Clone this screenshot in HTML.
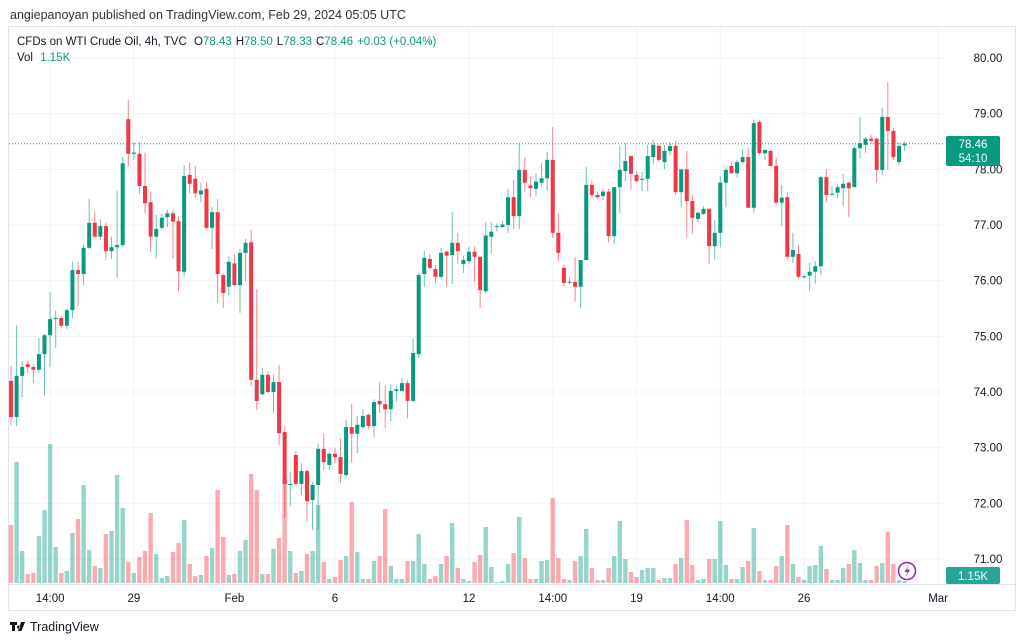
<!DOCTYPE html>
<html><head><meta charset="utf-8"><style>
html,body{margin:0;padding:0;background:#fff;}
svg{display:block;font-family:"Liberation Sans",sans-serif;}
</style></head><body>
<svg id="chart" width="1024" height="643" viewBox="0 0 1024 643" xmlns="http://www.w3.org/2000/svg">
<rect width="1024" height="643" fill="#fff"/>
<text x="10" y="19" font-size="12.5" fill="#333">angiepanoyan published on TradingView.com, Feb 29, 2024 05:05 UTC</text>
<rect x="8.5" y="26.5" width="1007" height="584" fill="none" stroke="#e0e3eb"/>
<g id="grid"></g>
<g id="vol"></g>
<g id="candles"></g>
<g id="axes"></g>
<g font-size="11.5">
<text x="17" y="45" fill="#131722">CFDs on WTI Crude Oil, 4h, TVC <tspan fill="#131722" dx="4">O</tspan><tspan fill="#089981">78.43</tspan><tspan dx="4">H</tspan><tspan fill="#089981">78.50</tspan><tspan dx="4">L</tspan><tspan fill="#089981">78.33</tspan><tspan dx="4">C</tspan><tspan fill="#089981">78.46</tspan><tspan dx="4" fill="#089981">+0.03 (+0.04%)</tspan></text>
<text x="17" y="61" fill="#131722">Vol <tspan fill="#089981" dx="4">1.15K</tspan></text>
</g>
<g>
<rect x="946" y="136" width="54" height="30" rx="2" fill="#089981"/>
<text x="973" y="148" font-size="11.5" fill="#fff" text-anchor="middle">78.46</text>
<text x="973" y="162" font-size="11.5" fill="#fff" text-anchor="middle">54:10</text>
</g>
<g>
<rect x="946" y="567" width="54" height="17" rx="2" fill="#26a69a"/>
<text x="973" y="580" font-size="11.5" fill="#fff" text-anchor="middle">1.15K</text>
</g>
<g>
<circle cx="907" cy="571" r="8.5" fill="#fff" stroke="#9c27b0" stroke-width="1.6"/>
<path d="M908.5 565.5 L904.5 572 L907.5 572 L905.5 577 L910 569.8 L907 569.8 Z" fill="#9c27b0"/>
</g>
<g>
<path d="M10 622 h7 v3 h-2 v6 h-3 v-6 h-2z M18.5 625.5 a1.6 1.6 0 1 0 0.01 0z M21 622 h4 l-3.5 9 h-3.5z" fill="#131722"/>
<text x="30" y="631" font-size="12.5" fill="#131722">TradingView</text>
</g>
</svg>
<script>
const opens=[74.20,73.55,74.29,74.50,74.45,74.40,74.68,75.02,75.31,75.33,75.19,75.47,76.19,76.12,76.59,77.04,76.79,76.98,76.53,76.60,76.64,78.90,78.28,78.28,77.70,77.41,76.79,76.95,77.14,77.21,77.07,76.16,77.90,77.83,77.55,77.65,76.95,77.23,76.10,75.89,76.31,75.92,76.50,76.69,74.22,73.96,74.31,74.00,74.18,73.28,72.33,72.87,72.35,72.58,72.06,72.33,72.98,72.69,72.89,72.83,72.51,73.37,73.25,73.37,73.59,73.39,73.84,73.78,73.69,74.02,74.02,74.16,73.84,74.68,76.12,76.39,76.21,76.07,76.52,76.46,76.68,76.30,76.35,76.52,76.43,75.81,76.79,76.97,76.96,77.00,77.50,77.16,77.99,77.71,77.65,77.76,77.84,78.17,76.86,76.23,75.97,75.98,75.89,76.37,77.72,77.54,77.52,77.60,76.80,77.68,77.97,78.24,77.90,77.82,77.83,78.22,78.42,78.13,78.33,78.42,77.59,78.00,77.43,77.11,77.20,77.29,76.62,76.86,77.76,78.06,77.93,78.13,78.22,77.31,78.85,78.29,78.33,78.06,77.40,77.50,76.43,76.48,76.07,76.09,76.16,76.26,77.86,77.55,77.58,77.66,77.76,77.68,78.38,78.44,78.55,78.55,77.99,78.94,78.69,78.13,78.43];
const highs=[74.47,75.20,74.56,74.56,74.50,74.97,75.04,75.80,75.46,75.36,75.50,76.34,76.34,76.65,77.47,77.25,77.10,77.04,76.79,77.61,78.22,79.25,78.49,78.49,78.30,77.60,77.18,77.20,77.28,77.28,77.15,78.08,78.12,78.06,77.76,77.77,77.32,77.47,76.12,76.44,76.48,76.57,76.75,76.91,75.85,74.43,74.37,74.31,74.49,73.39,72.56,72.94,72.72,72.60,72.39,73.07,73.25,72.92,73.00,73.17,73.50,73.78,73.57,73.69,73.62,73.87,74.18,74.11,74.14,74.12,74.25,74.22,74.95,76.14,76.53,76.48,76.28,76.59,76.54,77.23,76.86,76.45,76.61,76.62,76.43,77.05,77.05,77.03,77.08,77.65,77.81,78.46,78.22,77.87,77.93,78.11,78.31,78.76,77.21,76.28,76.05,76.43,76.37,78.04,77.80,77.60,77.65,77.65,77.68,78.42,78.47,78.24,77.97,77.95,78.44,78.53,78.45,78.44,78.49,78.51,78.00,78.33,77.55,77.24,77.34,77.30,77.09,77.88,78.04,78.12,78.17,78.36,78.38,78.89,78.88,78.35,78.35,78.22,77.72,77.60,76.86,76.64,76.11,76.32,76.35,77.88,78.00,77.70,77.73,77.92,77.78,78.42,78.94,78.58,78.62,78.57,79.10,79.57,78.75,78.48,78.50];
const lows=[73.40,73.39,73.91,74.34,74.16,74.34,73.93,74.45,74.79,75.15,75.13,75.33,75.55,75.92,76.57,76.77,76.73,76.37,76.39,76.05,76.60,78.05,78.17,77.56,77.21,76.51,76.40,76.91,76.96,76.39,75.81,76.07,77.57,77.50,77.41,76.91,76.57,75.60,75.51,75.72,75.90,75.42,75.99,74.11,73.68,73.94,73.98,73.62,73.05,71.75,71.95,72.33,72.15,71.67,71.52,71.52,72.60,72.60,72.72,72.36,72.48,72.73,72.90,73.33,73.33,73.19,73.62,73.35,73.48,73.82,74.00,73.53,73.82,74.61,75.89,76.20,75.96,76.05,75.90,75.94,76.30,76.14,76.30,75.99,75.51,75.78,76.48,76.88,76.96,76.86,76.93,76.93,77.60,77.50,77.52,77.69,77.62,76.77,76.35,75.90,75.93,75.62,75.50,76.37,77.50,77.46,77.45,76.69,76.66,77.21,77.79,77.65,77.77,77.61,77.61,78.10,78.13,78.00,78.25,77.54,77.32,76.78,76.84,77.05,77.18,76.30,76.37,76.60,77.32,77.99,77.85,78.10,77.31,77.22,78.25,78.17,78.06,77.37,76.98,76.37,76.32,76.04,76.03,75.81,75.95,76.10,77.41,77.53,77.48,77.34,77.14,77.68,78.19,78.29,78.46,77.76,77.90,77.99,78.17,78.08,78.33];
const closes=[73.55,74.29,74.45,74.45,74.40,74.68,75.02,75.31,75.33,75.19,75.47,76.19,76.12,76.59,77.04,76.79,76.98,76.53,76.60,76.64,78.11,78.28,78.30,77.70,77.39,76.79,76.93,77.13,77.21,77.06,76.17,77.88,77.74,77.57,77.62,76.95,77.23,76.12,75.78,76.34,75.92,76.50,76.68,74.22,73.84,74.31,74.00,74.18,73.26,72.35,72.35,72.35,72.58,72.04,72.33,72.98,72.74,72.89,72.83,72.53,73.37,73.25,73.41,73.57,73.39,73.82,73.78,73.69,74.02,74.05,74.16,73.84,74.70,76.10,76.41,76.23,76.07,76.50,76.45,76.68,76.53,76.37,76.52,76.43,75.83,76.81,76.88,76.98,77.01,77.50,77.16,77.99,77.76,77.66,77.78,77.84,78.17,76.86,76.50,75.96,75.98,75.89,76.37,77.72,77.54,77.50,77.60,76.80,77.68,77.99,78.15,77.92,77.79,77.83,78.24,78.44,78.17,78.33,78.42,77.59,78.00,77.43,77.13,77.22,77.29,76.62,76.86,77.76,77.99,77.93,78.13,78.22,77.31,78.83,78.29,78.35,78.06,77.40,77.49,76.43,76.55,76.07,76.08,76.16,76.26,77.86,77.54,77.56,77.68,77.74,77.66,78.38,78.47,78.55,78.51,77.99,78.94,78.69,78.22,78.42,78.46];
const volumes=[58,121,32,9,10,47,73,139,36,10,12,50,64,98,33,17,15,49,52,108,75,21,10,26,32,70,29,5,7,31,40,63,19,7,8,27,35,93,46,8,9,32,43,109,93,9,9,34,45,105,32,10,12,29,32,78,21,4,6,23,27,81,31,4,4,22,27,74,17,4,4,22,22,49,19,4,7,19,27,60,15,4,2,21,28,56,16,1,2,19,30,66,25,4,4,22,23,85,25,4,3,22,27,54,15,3,3,15,27,62,24,11,6,13,15,15,3,5,5,19,25,63,18,3,4,24,24,62,18,4,4,16,22,55,12,3,3,17,27,58,19,6,3,17,18,37,14,3,3,15,19,33,20,3,3,17,20,51,19,3,2];
const priceTicks=["80.00","79.00","78.00","77.00","76.00","75.00","74.00","73.00","72.00","71.00"];
const timeLabels=["14:00","29","Feb","6","12","14:00","19","14:00","26","Mar"];
const timeLabelIdx=[7,22,40,58,82,97,112,127,142,166];
const lastPrice=78.46;

const NS="http://www.w3.org/2000/svg";
const X0=11, STEP=5.585, PLOT_R=945;
function xS(i){return X0+i*STEP;}
function yS(p){return 58+(80-p)*55.67;}
const VBASE=583, VSCALE=1.0;
function yV(v){return VBASE-v*VSCALE;}
function mk(tag,attrs,parent){const e=document.createElementNS(NS,tag);for(const k in attrs)e.setAttribute(k,attrs[k]);parent.appendChild(e);return e;}

const grid=document.getElementById('grid');
const axes=document.getElementById('axes');
priceTicks.forEach(function(t){
  const y=yS(parseFloat(t));
  const l=mk('line',{x1:9,x2:PLOT_R,y1:y,y2:y,stroke:'#f0f3fa','stroke-width':1},grid);
  
  
  const tx=mk('text',{x:988,y:y+4,'font-size':11.5,fill:'#131722','text-anchor':'middle'},axes);
  tx.textContent=t;
  
  
});
timeLabels.forEach(function(t,k){
  const x=xS(timeLabelIdx[k]);
  if(x<PLOT_R){
    const l=mk('line',{x1:x,x2:x,y1:27,y2:584,stroke:'#f0f3fa','stroke-width':1},grid);
    
    
  }
  const tx=mk('text',{x:x,y:602,'font-size':11.5,fill:'#131722','text-anchor':'middle'},axes);
  tx.textContent=t;
  
  
});
const ax1=mk('line',{x1:9,x2:1015,y1:584.5,y2:584.5,stroke:'#e0e3eb'},axes);


const lp=mk('line',{x1:9,x2:PLOT_R,y1:yS(lastPrice),y2:yS(lastPrice),stroke:'#089981','stroke-width':1,'stroke-dasharray':'1 2'},axes);



const vg=document.getElementById('vol');
const cg=document.getElementById('candles');
for(let i=0;i<opens.length;i++){
  const x=xS(i);
  const up=closes[i]>=opens[i];
  const col=up?'#089981':'#f23645';
  const vb=mk('rect',{x:x-2.2,y:yV(volumes[i]),width:4.4,height:Math.max(0.5,VBASE-yV(volumes[i])),fill:up?'rgba(8,153,129,0.42)':'rgba(242,54,69,0.42)'},vg);
  
  
  const w=mk('line',{x1:x,x2:x,y1:yS(highs[i]),y2:yS(lows[i]),stroke:col,'stroke-width':1,'stroke-opacity':0.6},cg);
  
  
  const top=yS(Math.max(opens[i],closes[i])), bot=yS(Math.min(opens[i],closes[i]));
  const b=mk('rect',{x:x-2,y:top,width:4,height:Math.max(1,bot-top),fill:col},cg);
  
  
}
</script>
</body></html>
